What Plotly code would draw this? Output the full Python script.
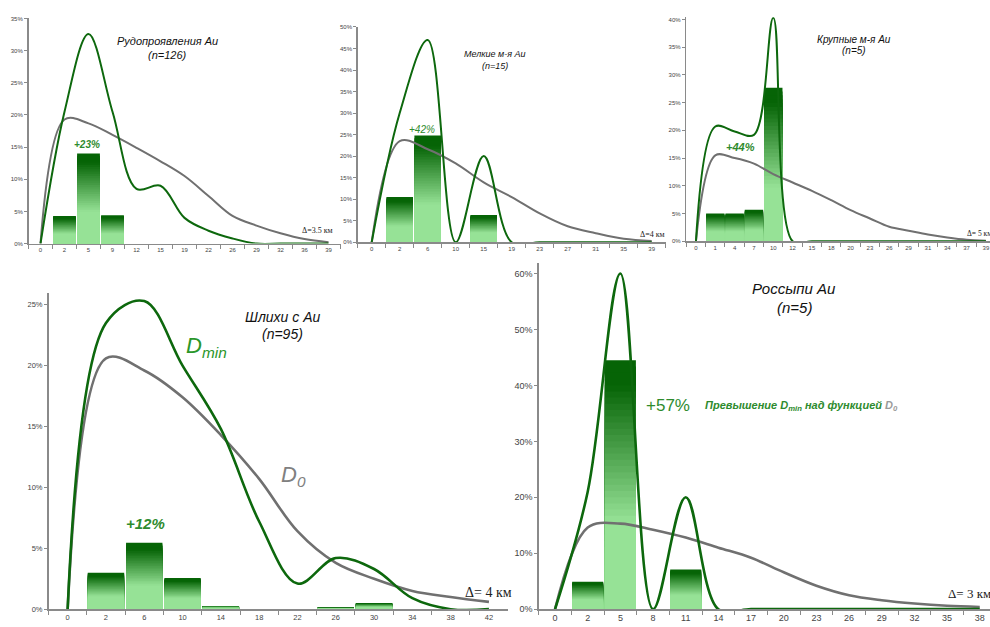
import plotly.graph_objects as go

# ---------------- DATA ----------------
# Panel 1: Рудопроявления Au (n=126)
p1_labels = ["0", "2", "5", "9", "12", "15", "19", "22", "26", "29", "32", "36", "39"]
p1_bars = [0, 4.3, 14.0, 4.4, 0, 0, 0, 0, 0, 0, 0, 0, 0]
p1_dmin = [0, 20.5, 32.6, 20.5, 8.5, 9.0, 4.0, 2.0, 0.8, 0, 0, 0, 0]
p1_d0 = [0, 19.3, 18.7, 16.9, 14.9, 12.8, 10.5, 7.4, 4.3, 2.8, 1.6, 0.7, 0.2]

# Panel 2: Мелкие м-я Au (n=15)
p2_labels = ["0", "2", "6", "10", "15", "19", "23", "27", "31", "35", "39"]
p2_bars = [0, 10.5, 24.8, 0, 6.3, 0, 0, 0, 0, 0, 0]
p2_dmin = [0, 30.0, 47.0, 0, 20.0, 0, 0, 0, 0, 0, 0]
p2_d0 = [0, 23.5, 21.6, 18.3, 13.9, 10.5, 6.7, 3.7, 2.1, 0.8, 0.3]

# Panel 3: Крупные м-я Au (n=5)
p3_labels = ["0", "1", "4", "7", "10", "12", "15", "18", "20", "23", "26", "29", "31", "34", "37", "39"]
p3_bars = [0, 5.0, 5.0, 5.7, 27.7, 0, 0, 0, 0, 0, 0, 0, 0, 0, 0, 0]
p3_dmin = [0, 20.7, 19.8, 19.2, 40.3, 0, 0, 0, 0, 0, 0, 0, 0, 0, 0, 0]
p3_d0 = [0, 15.5, 15.0, 14.0, 12.1, 10.6, 9.1, 7.4, 5.6, 4.1, 2.6, 1.9, 1.2, 0.65, 0.25, 0.1]

# Panel 4: Шлихи с Au (n=95)
p4_labels = ["0", "2", "6", "10", "14", "18", "22", "26", "30", "34", "38", "42"]
p4_bars = [0, 3.0, 5.45, 2.55, 0.27, 0, 0, 0.13, 0.5, 0, 0, 0]
p4_dmin = [0, 23.5, 25.3, 20.0, 14.8, 7.2, 2.1, 4.2, 3.3, 0.9, 0, 0]
p4_d0 = [0, 20.6, 19.6, 17.4, 14.3, 10.7, 6.4, 3.8, 2.5, 1.5, 1.0, 0.6]

# Panel 5: Россыпи Au (n=5)
p5_labels = ["0", "2", "5", "8", "11", "14", "17", "20", "23", "26", "29", "32", "35", "38"]
p5_bars = [0, 4.9, 44.5, 0, 7.1, 0, 0, 0, 0, 0, 0, 0, 0, 0]
p5_dmin = [0, 21.0, 60.0, 0, 20.0, 0, 0, 0, 0, 0, 0, 0, 0, 0]
p5_d0 = [0, 14.6, 15.3, 14.2, 12.8, 11.0, 9.2, 6.6, 4.2, 2.5, 1.6, 1.0, 0.6, 0.4]

# ---------------- LAYOUT GEOMETRY (window pixels) ----------------
W, H = 990, 627


def fx(px):
    return px / W


def fy(py):
    return 1 - py / H


geo = [
    dict(x0=28.5, step=24.0, yb=243.7, yt=15.7, ymax=35, dtick=5, tf=6, lw=2.0),
    dict(x0=357.7, step=28.0, yb=242.3, yt=24.3, ymax=50, dtick=5, tf=6, lw=2.0),
    dict(x0=686.3, step=19.33, yb=241.3, yt=14.5, ymax=40.4, dtick=5, tf=6, lw=2.0),
    dict(x0=48.5, step=38.3, yb=614.0, yt=293.3, ymax=26, dtick=5, tf=7.5, lw=2.6),
    dict(x0=538.7, step=32.67, yb=614.0, yt=263.3, ymax=61.9, dtick=10, tf=9, lw=2.6),
]
panels = [
    (p1_labels, p1_bars, p1_dmin, p1_d0),
    (p2_labels, p2_bars, p2_dmin, p2_d0),
    (p3_labels, p3_bars, p3_dmin, p3_d0),
    (p4_labels, p4_bars, p4_dmin, p4_d0),
    (p5_labels, p5_bars, p5_dmin, p5_d0),
]

GREEN = "#0d680d"
GRAY = "#707070"
AXIS = "#8a8a8a"
TXT_GREEN = "#2e8b2e"
FONT = "Liberation Sans"
SERIF = "Liberation Serif"

DARK = (6, 100, 6)
LIGHT = (150, 226, 150)
NSLICE = 40


def level_color(f):
    t = max(0.0, min(1.0, (f - 0.35) / 0.55))
    c = [round(LIGHT[i] + (DARK[i] - LIGHT[i]) * t) for i in range(3)]
    return "rgb(%d,%d,%d)" % tuple(c)


fig = go.Figure()
layout_axes = {}

for i, ((labels, bars, dmin, d0), g) in enumerate(zip(panels, geo)):
    n = i + 1
    xa = "x" if n == 1 else "x%d" % n
    ya = "y" if n == 1 else "y%d" % n
    x1 = min(W, g["x0"] + len(labels) * g["step"])
    xmax = -0.5 + (x1 - g["x0"]) / g["step"]

    # gradient bars: overlaid bars of decreasing height, colours from dark (top) to light (bottom)
    for k in range(NSLICE):
        frac = 1 - k / NSLICE
        fig.add_trace(go.Bar(
            x=labels, y=[v * frac for v in bars], xaxis=xa, yaxis=ya,
            marker=dict(color=level_color(frac - 0.5 / NSLICE), line=dict(width=0)),
            showlegend=False, hoverinfo="skip",
        ))
    fig.add_trace(go.Scatter(
        x=labels, y=d0, xaxis=xa, yaxis=ya, mode="lines",
        line=dict(color=GRAY, width=g["lw"], shape="spline", smoothing=1.0),
        showlegend=False, hoverinfo="skip",
    ))
    fig.add_trace(go.Scatter(
        x=labels, y=dmin, xaxis=xa, yaxis=ya, mode="lines",
        line=dict(color=GREEN, width=g["lw"], shape="spline", smoothing=1.0),
        showlegend=False, hoverinfo="skip",
    ))

    xkey = "xaxis" if n == 1 else "xaxis%d" % n
    ykey = "yaxis" if n == 1 else "yaxis%d" % n
    layout_axes[xkey] = dict(
        type="category", categoryorder="array", categoryarray=labels,
        domain=[fx(g["x0"]), fx(x1)], range=[-0.5, xmax], anchor=ya,
        tickson="boundaries", ticks="outside", ticklen=4, tickcolor=AXIS, tickwidth=1,
        showline=True, linecolor=AXIS, linewidth=1.5, showgrid=False, zeroline=False,
        ticklabeloverflow="allow",
        tickfont=dict(family=FONT, size=g["tf"], color="#444"), fixedrange=True,
    )
    layout_axes[ykey] = dict(
        domain=[fy(g["yb"]), fy(g["yt"])], range=[0, g["ymax"]], anchor=xa,
        tickmode="linear", tick0=0, dtick=g["dtick"], ticksuffix="%",
        ticks="outside", ticklen=3, tickcolor=AXIS, tickwidth=1,
        showline=True, linecolor=AXIS, linewidth=1.5, showgrid=False, zeroline=False,
        ticklabeloverflow="allow",
        tickfont=dict(family=FONT, size=g["tf"], color="#444"), fixedrange=True,
    )


def ann(text, x, y, size, color="#111", xanchor="center", family=FONT, yanchor="middle"):
    return dict(text=text, x=fx(x), y=fy(y), xref="paper", yref="paper",
                xanchor=xanchor, yanchor=yanchor, showarrow=False,
                font=dict(family=family, size=size, color=color))


annotations = [
    ann("<i>Рудопроявления Au</i>", 167, 38.5, 11),
    ann("<i>(n=126)</i>", 167, 53, 11),
    ann("<b><i>+23%</i></b>", 87, 143.5, 10, TXT_GREEN),
    ann("Δ=3.5 км", 300, 230, 8, "#222", "left", SERIF),

    ann("<i>Мелкие м-я Au</i>", 495, 51.5, 9),
    ann("<i>(n=15)</i>", 495, 63.5, 9),
    ann("<i>+42%</i>", 422, 128, 10, TXT_GREEN),
    ann("Δ=4 км", 638, 234, 8, "#222", "left", SERIF),

    ann("<i>Крупные м-я Au</i>", 854, 37, 10),
    ann("<i>(n=5)</i>", 854, 48.5, 10),
    ann("<b><i>+44%</i></b>", 740, 145.5, 11, TXT_GREEN),
    ann("Δ= 5 км", 965, 233, 7.5, "#222", "left", SERIF),

    ann("<i>Шлихи с Au</i>", 282, 318.5, 14),
    ann("<i>(n=95)</i>", 282, 335.5, 14),
    ann("<i>D<sub>min</sub></i>", 184, 348, 22, "#2a962a", "left"),
    ann("<i>D<sub>0</sub></i>", 279, 479, 22, "#808080", "left"),
    ann("<b><i>+12%</i></b>", 145, 527, 15, TXT_GREEN),
    ann("Δ= 4 км", 463, 597, 14, "#222", "left", SERIF),

    ann("<i>Россыпи Au</i>", 794, 289.5, 15),
    ann("<i>(n=5)</i>", 794, 308, 15),
    ann("+57%", 668, 407.5, 17, TXT_GREEN),
    ann("<b><i>Превышение D<sub>min</sub> над функцией </i></b>"
        "<span style='color:#9a9a9a'><b><i>D<sub>0</sub></i></b></span>",
        703, 408, 11, TXT_GREEN, "left"),
    ann("Δ= 3 км", 946, 598, 13, "#222", "left", SERIF),
]

fig.update_layout(
    width=W, height=H, margin=dict(l=0, r=0, t=0, b=0),
    paper_bgcolor="white", plot_bgcolor="rgba(0,0,0,0)",
    barmode="overlay", bargap=0.05, showlegend=False,
    annotations=annotations, **layout_axes,
)

fig.write_html(
    "out.html",
    config={"displayModeBar": False, "staticPlot": True},
    post_script="document.body.style.margin='0';document.body.style.overflow='hidden';",
)
